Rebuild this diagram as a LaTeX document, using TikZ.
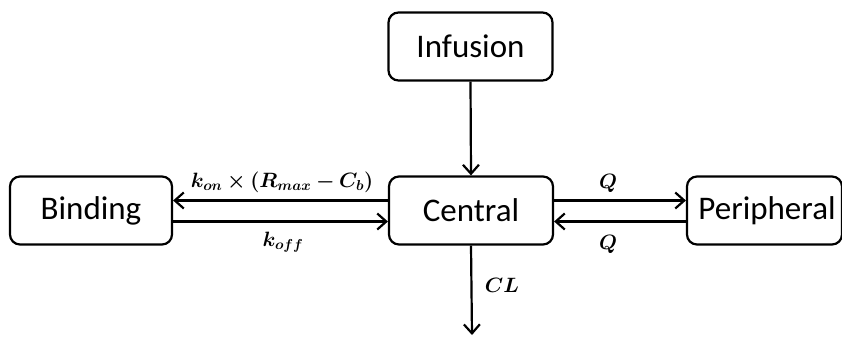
\documentclass[tikz,border=0pt]{standalone}
\usepackage{fontspec}
\usepackage{bm}
\setmainfont{Carlito}
\DeclareMathSizes{20}{20}{15}{11}
\usetikzlibrary{arrows.meta}
\begin{document}
\begin{tikzpicture}[x=1pt,y=-1pt,
  box/.style={draw,line width=2.2pt,rounded corners=10pt,font=\fontsize{33}{36}\selectfont,inner sep=0pt},
  flow/.style={line width=2.2pt,-{Straight Barb[length=9pt,width=16pt,line width=2.2pt]}},
  lbl/.style={font=\fontsize{20}{24}\selectfont,inner sep=0pt}]
\useasboundingbox (0,0) rectangle (842,337);
\node[box,minimum width=164pt,minimum height=68pt] (inf) at (470.5,46.5) {Infusion};
\node[box,minimum width=164pt,minimum height=68pt] (cen) at (471,210.5) {Central};
\node[box,minimum width=162pt,minimum height=68pt] (bin) at (91,210.5) {Binding};
\node[box,minimum width=155pt,minimum height=68pt,text width=155pt,align=center] (per) at (764.5,210.5) {\hspace*{5pt}Peripheral};
\coordinate (out) at (472,335);
\draw[flow] (inf.south) -- (cen.north);
\draw[flow] (cen.south) -- (out);
\draw[flow] (cen.west |- 0,200.5) -- (bin.east |- 0,200.5);
\draw[flow] (bin.east |- 0,221.5) -- (cen.west |- 0,221.5);
\draw[flow] (cen.east |- 0,200.5) -- (per.west |- 0,200.5);
\draw[flow] (per.west |- 0,221.5) -- (cen.east |- 0,221.5);
\node[lbl] (l1) at (282,182) {$\bm{k_{on}\times(R_{max}-C_b)}$};
\node[lbl] (l2) at (283,242) {$\bm{k_{off}}$};
\node[lbl] (l3) at (608,183) {$\bm{Q}$};
\node[lbl] (l4) at (608,244) {$\bm{Q}$};
\node[lbl] (l5) at (502,285) {$\bm{CL}$};
\end{tikzpicture}
\end{document}
